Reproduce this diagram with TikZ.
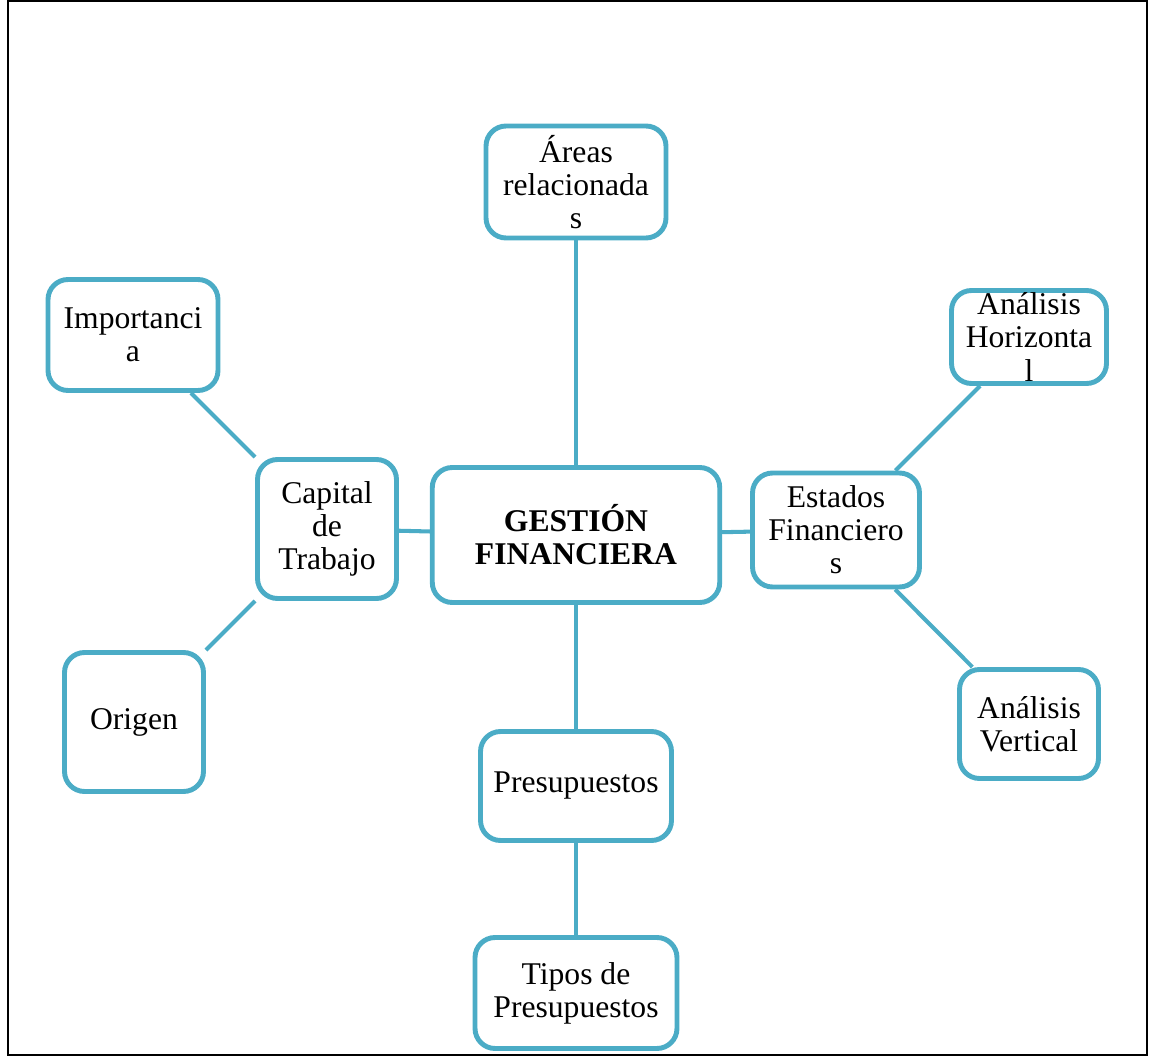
\documentclass[tikz,border=0pt]{standalone}
\usepackage{fontspec}
\setmainfont{Liberation Serif}
\usepackage{tikz}
\usetikzlibrary{positioning}
\usepackage{xcolor}
\definecolor{accent}{RGB}{75,172,198}

\begin{document}
\begin{tikzpicture}[x=0.02cm,y=-0.02cm,
    comp/.style={rectangle,rounded corners=0.4cm,draw=accent,line width=2.8pt,fill=white,inner sep=0pt,align=center,font=\fontsize{18}{18.8}\selectfont},
    link/.style={draw=accent,line width=2.3pt}]

\useasboundingbox (0,0) rectangle (1150,1057);
\draw[line width=0.9pt] (8,1) rectangle (1147,1055);

\node[comp,minimum width=5.75cm,minimum height=2.7cm] (gest) at (576,535) {\textbf{GESTIÓN}\\\textbf{FINANCIERA}};
\node[comp,minimum width=3.6cm,minimum height=2.24cm] (areas) at (576,182) {Áreas\\relacionada\\s};
\node[comp,minimum width=3.4cm,minimum height=2.22cm] (imp) at (133,335) {Importanci\\a};
\node[comp,minimum width=2.78cm,minimum height=2.78cm] (cap) at (327,529) {Capital\\de\\Trabajo};
\node[comp,minimum width=2.78cm,minimum height=2.78cm] (orig) at (134,722) {Origen};
\node[comp,minimum width=3.34cm,minimum height=2.28cm] (est) at (836,530) {Estados\\Financiero\\s};
\node[comp,minimum width=3.1cm,minimum height=1.86cm] (horiz) at (1029,337) {Análisis\\Horizonta\\l};
\node[comp,minimum width=2.78cm,minimum height=2.18cm] (vert) at (1029,724) {Análisis\\Vertical};
\node[comp,minimum width=3.82cm,minimum height=2.18cm] (pres) at (576,786) {Presupuestos};
\node[comp,minimum width=4.04cm,minimum height=2.22cm] (tipos) at (576,993) {Tipos de\\Presupuestos};

% ramas
\draw[link] (areas) -- (gest);
\draw[link] (gest) -- (pres);
\draw[link] (pres) -- (tipos);
\draw[link] (cap) -- (gest);
\draw[link] (gest) -- (est);
\draw[link] (imp) -- (cap);
\draw[link] (orig) -- (cap);
\draw[link] (est) -- (horiz);
\draw[link] (est) -- (vert);

\end{tikzpicture}
\end{document}
